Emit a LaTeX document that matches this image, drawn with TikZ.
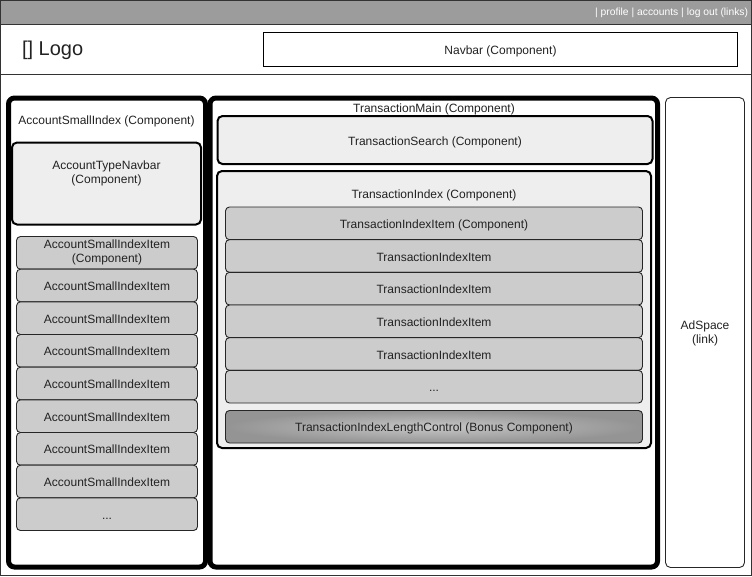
\documentclass[tikz,border=0pt]{standalone}
\usepackage{fontspec}
\setmainfont{Liberation Sans}
\definecolor{bargray}{HTML}{9C9C9C}
\definecolor{boxlight}{HTML}{EEEEEE}
\definecolor{itemgray}{HTML}{CCCCCC}
\definecolor{txt}{HTML}{222222}
\begin{document}
\begin{tikzpicture}[x=1pt,y=-1pt,
  font=\fontsize{12}{14}\selectfont, text=txt,
  every node/.style={inner sep=0pt, outer sep=0pt},
  onel/.style={text height=10pt, text depth=0pt},
  frame/.style={draw=black!80, line width=1pt, anchor=north west},
  panel/.style={draw=black, line width=5pt, rounded corners=6pt, anchor=north west},
  lightbox/.style={draw=black, line width=2pt, fill=boxlight, rounded corners=5pt, anchor=north west},
  itembox/.style={draw=black!85, line width=0.9pt, fill=itemgray, rounded corners=4pt, anchor=north west, align=center},
  adbox/.style={draw=black!85, line width=0.9pt, rounded corners=5pt, anchor=north west},
  lbl/.style={align=center}
]
\useasboundingbox (0,0) rectangle (752,576);
% outer frame and header
\node[frame, fill=white, minimum width=751pt, minimum height=575pt] (page) at (0.5,0.5) {};
\node[frame, fill=bargray, minimum width=751pt, minimum height=24pt] (topbar) at (0.5,0.5) {};
\node[frame, minimum width=751pt, minimum height=50pt] (header) at (0.5,24.5) {};
\node[anchor=base east, text=white, font=\fontsize{10.3}{12}\selectfont] (links) at (748,15.8) {| profile | accounts | log out (links)};
\node[anchor=base west, font=\fontsize{20}{24}\selectfont] (logo) at (22,55.5) {[] Logo};
\node[draw=black, line width=1pt, anchor=north west, onel, minimum width=474pt, minimum height=34pt] (navbar) at (263.5,32.5) {Navbar (Component)};

% left panel
\node[panel, minimum width=197pt, minimum height=469pt] (asi) at (8.5,98) {};
\node[lbl, onel] (asilbl) at (106.5,119.5) {AccountSmallIndex (Component)};
\node[lightbox, minimum width=189pt, minimum height=82pt] (atn) at (12,142.5) {};
\node[lbl] (atnlbl) at (106.5,173) {AccountTypeNavbar\\(Component)};
\node[itembox, minimum width=181pt, minimum height=32.67pt] (ai0) at (16.5,236.5) {\raisebox{-1.5pt}{\begin{tabular}{@{}c@{}}AccountSmallIndexItem\\(Component)\end{tabular}}};
\foreach \i in {1,...,7}{
  \node[itembox, onel, minimum width=181pt, minimum height=32.67pt] (ai\i) at (16.5,236.5+\i*32.67) {AccountSmallIndexItem};
}
\node[itembox, onel, minimum width=181pt, minimum height=32.67pt] (ai8) at (16.5,236.5+8*32.67) {...};

% middle panel
\node[panel, minimum width=447.5pt, minimum height=469pt] (tm) at (210,98) {};
\node[lbl, onel] (tmlbl) at (434,107) {TransactionMain (Component)};
\node[lightbox, onel, minimum width=435pt, minimum height=48pt] (ts) at (217.5,116) {TransactionSearch (Component)};
\node[lightbox, minimum width=434pt, minimum height=277pt] (ti) at (217,171) {};
\node[lbl, onel] (tilbl) at (434,193) {TransactionIndex (Component)};
\node[itembox, onel, minimum width=417pt, minimum height=32.67pt] (tii0) at (225.5,207) {TransactionIndexItem (Component)};
\foreach \i in {1,...,4}{
  \node[itembox, onel, minimum width=417pt, minimum height=32.67pt] (tii\i) at (225.5,207+\i*32.67) {TransactionIndexItem};
}
\node[itembox, onel, minimum width=417pt, minimum height=32.67pt] (tii5) at (225.5,207+5*32.67) {...};
\node[itembox, onel, shade, inner color=black!22, outer color=black!42, minimum width=417pt, minimum height=32.5pt] (tilc) at (225.5,410.5) {TransactionIndexLengthControl (Bonus Component)};

% ad space
\node[adbox, minimum width=79pt, minimum height=470pt] (ad) at (665.5,97.5) {};
\node[lbl] (adlbl) at (705,333.5) {AdSpace\\(link)};
\end{tikzpicture}
\end{document}
